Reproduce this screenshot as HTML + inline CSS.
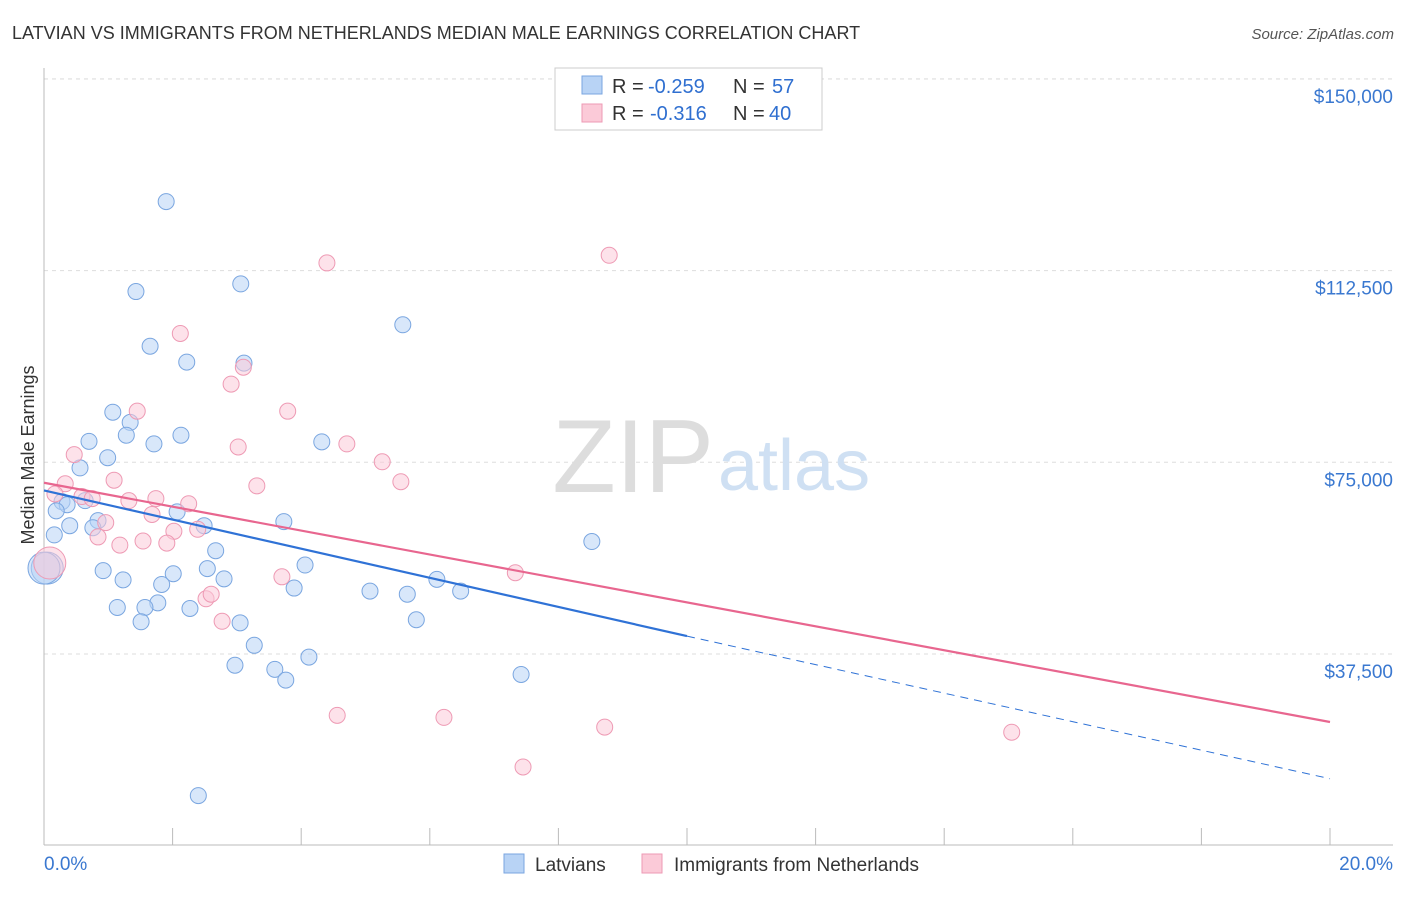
<!DOCTYPE html>
<html><head><meta charset="utf-8"><style>
body{margin:0;background:#fff;font-family:"Liberation Sans",sans-serif;}
svg text{font-family:"Liberation Sans",sans-serif;}
</style></head><body>
<svg id="chart" width="1406" height="892" xmlns="http://www.w3.org/2000/svg">
<text x="12" y="39" font-size="18" fill="#333">LATVIAN VS IMMIGRANTS FROM NETHERLANDS MEDIAN MALE EARNINGS CORRELATION CHART</text>
<text x="1394" y="39" font-size="15" fill="#555" font-style="italic" text-anchor="end">Source: ZipAtlas.com</text>
<g id="grid"></g>
<text x="714" y="492" font-size="104" fill="#ddd" text-anchor="end" font-family="Liberation Serif">ZIP</text>
<text x="718" y="490" font-size="72" fill="#cfe0f3">atlas</text>
<g id="marks"></g>
<text transform="translate(34,455) rotate(-90)" font-size="18" fill="#333" text-anchor="middle">Median Male Earnings</text>
<g>
<rect x="555" y="68" width="267" height="62" fill="#fff" stroke="#ccc"/>
<rect x="582" y="76" width="20" height="18" fill="#b8d3f5" stroke="#7aa6e0"/>
<rect x="582" y="104" width="20" height="18" fill="#fbcad8" stroke="#ee9ab4"/>
<g font-size="20">
<text x="612" y="93" fill="#333">R =</text><text x="648" y="93" fill="#2f6fd0">-0.259</text><text x="733" y="93" fill="#333">N =</text><text x="772" y="93" fill="#2f6fd0">57</text>
</g>
<g font-size="20">
<text x="612" y="120" fill="#333">R =</text><text x="650" y="120" fill="#2f6fd0">-0.316</text><text x="733" y="120" fill="#333">N =</text><text x="769" y="120" fill="#2f6fd0">40</text>
</g>
</g>
<g>
<rect x="504" y="854" width="20" height="19" fill="#b8d3f5" stroke="#7aa6e0"/>
<text x="535" y="871" font-size="19" fill="#333">Latvians</text>
<rect x="642" y="854" width="20" height="19" fill="#fbcad8" stroke="#ee9ab4"/>
<text x="674" y="871" font-size="19" fill="#333">Immigrants from Netherlands</text>
</g>
</svg>
<script>
const yTicks=[37500,75000,112500,150000];
const yTickLabels=["$37,500","$75,000","$112,500","$150,000"];
const xTickLabels=["0.0%","20.0%"];
const blueX=[1.9,1.43,3.06,1.65,2.22,3.11,5.58,1.07,1.34,0.7,1.28,1.71,2.13,4.32,0.99,0.56,0.28,0.64,0.36,2.07,0.84,3.73,0.19,0.4,0.76,0.16,2.49,2.67,8.52,2.01,2.54,0.92,1.23,2.8,4.06,1.83,6.11,6.48,3.89,5.07,5.65,1.77,1.14,1.57,2.27,1.51,3.05,5.79,3.27,2.97,3.59,3.76,4.12,7.42,2.4,0.05,0.0];
const blueY=[126000,108400,109900,97700,94600,94400,101900,84800,82800,79100,80300,78600,80300,79000,75900,73900,67300,67500,66700,65300,63600,63400,65500,62600,62200,60800,62600,57700,59500,53200,54200,53800,52000,52200,54900,51100,52100,49800,50400,49800,49200,47500,46600,46600,46400,43800,43600,44200,39200,35300,34500,32400,36900,33500,9800,54300,54300];
const pinkX=[8.79,4.4,2.12,3.1,2.91,1.45,3.79,4.71,3.02,0.47,5.26,1.09,3.31,5.55,0.33,0.59,1.74,1.32,0.75,2.25,1.68,0.96,2.02,0.84,1.54,2.39,1.18,1.91,3.7,7.33,2.52,2.6,2.77,4.56,6.22,8.72,15.05,7.45,0.09,0.17];
const pinkY=[115500,114000,100200,93600,90300,85000,85000,78600,78000,76500,75100,71500,70400,71200,70800,68300,67900,67500,67900,66900,64800,63200,61500,60400,59600,61900,58800,59200,52600,53400,48300,49200,43900,25500,25100,23200,22200,15400,55300,68800];
const blueLine=[[0,69500],[10,41000]], blueDash=[[10,41000],[20,13100]];
const pinkLine=[[0,71000],[20,24200]];
const X=v=>44+v*64.3, Y=v=>845.7-v/37500*191.7;
const NS="http://www.w3.org/2000/svg";
const svg=document.getElementById('chart'),grid=document.getElementById('grid'),marks=document.getElementById('marks');
function mk(t,a,p){const e=document.createElementNS(NS,t);for(const k in a)e.setAttribute(k,a[k]);(p||svg).appendChild(e);return e;}
yTicks.forEach((v,i)=>{
 const l=mk('line',{x1:44,x2:1393,y1:Y(v),y2:Y(v),stroke:'#ddd','stroke-dasharray':'4,4'},grid);
 
 
 const t=mk('text',{x:1393,y:Y(v)+24,'font-size':19,fill:'#3a78d0','text-anchor':'end'});t.textContent=yTickLabels[i];
 
 
});
const tl=mk('line',{x1:44,x2:1393,y1:79,y2:79,stroke:'#ddd','stroke-dasharray':'4,4'},grid);


const ax=mk('line',{x1:44,x2:1393,y1:845,y2:845,stroke:'#bbb'},grid);


const ay=mk('line',{x1:44,x2:44,y1:68,y2:845,stroke:'#bbb'},grid);


for(let i=0;i<=10;i++){const t=mk('line',{x1:X(i*2),x2:X(i*2),y1:828,y2:845,stroke:'#bbb'},grid);
 
 }
[[0,'start',44],[20,'end',1393]].forEach((d,i)=>{const t=mk('text',{x:d[2],y:870,'font-size':19,fill:'#3a78d0','text-anchor':d[1]});t.textContent=xTickLabels[i];
 
 });
function pts(xs,ys,fill,stroke,name){xs.forEach((x,i)=>{const big=x<0.1;const c=mk('circle',{cx:X(x),cy:Y(ys[i]),r:big?16:8,fill:fill,'fill-opacity':0.55,stroke:stroke,'stroke-width':1},marks);
 
 });}
pts(blueX,blueY,'#b8d3f5','#7aa6e0','latvian-point');
pts(pinkX,pinkY,'#fbcad8','#ee9ab4','netherlands-point');
function ln(p,col,dash,name){const l=mk('line',{x1:X(p[0][0]),y1:Y(p[0][1]),x2:X(p[1][0]),y2:Y(p[1][1]),stroke:col,'stroke-width':dash?1:2.2,'stroke-dasharray':dash?'8,6':'none'},marks);
 
 }
ln(blueLine,'#2f72d6',false,'latvian-trend-line');
ln(blueDash,'#2f72d6',true,'latvian-trend-extension');
ln(pinkLine,'#e8668f',false,'netherlands-trend-line');
</script>
</body></html>
